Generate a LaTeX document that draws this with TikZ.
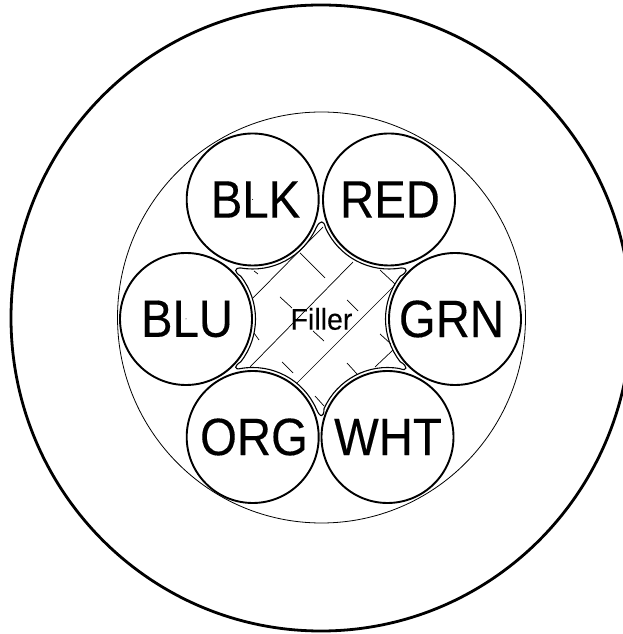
\documentclass[tikz,border=0pt]{standalone}
\usepackage{fontspec}
\usetikzlibrary{shapes.geometric}
\setmainfont{Liberation Sans}
\newfontfamily\wirefont[FakeStretch=0.9,FakeBold=0.2]{Liberation Sans}
\newfontfamily\fillerfont[FakeStretch=0.95,FakeBold=0.1]{Liberation Sans}
\tikzset{
  wire/.style={circle,draw=black,line width=1.9pt,minimum size=132pt,inner sep=0pt,outer sep=0pt,font=\wirefont\fontsize{52.6}{52.6}\selectfont},
  jacket/.style={ellipse,draw=black,line width=2.8pt,minimum width=620pt,minimum height=626pt,inner sep=0pt},
  shield/.style={ellipse,draw=black,line width=.8pt,minimum width=408pt,minimum height=411pt,inner sep=0pt},
  fillerline/.style={draw=black,line width=1.1pt,line join=round},
  hatchline/.style={draw=black,line width=.7pt},
  fillerlabel/.style={font=\fillerfont\fontsize{30}{30}\selectfont,inner sep=0pt}
}
\begin{document}
\begin{tikzpicture}[x=1pt,y=1pt]
\useasboundingbox (0,0) rectangle (623,634);
\node[jacket] (outer) at (321,316) {};
\node[shield] (inner) at (321.5,316.5) {};
\node[wire] (blk) at (252.7,434.5) {\hspace*{5.6pt}BLK};
\node[wire] (red) at (389,434.5) {\hspace*{2pt}RED};
\node[wire] (blu) at (186,315) {\hspace*{2pt}BLU};
\node[wire] (grn) at (455,315) {GRN\hspace*{7pt}};
\node[wire] (org) at (252.7,197) {\hspace*{2.6pt}ORG};
\node[wire] (wht) at (387.5,197) {\hspace*{1pt}WHT};
% filler outline
\path[fillerline]
  ([shift={(-24:69.5pt)}]blk.center) arc[start angle=-24,end angle=-100,radius=69.5pt]
  .. controls (234,366) and (234,362) .. ([shift={(38:69.5pt)}]blu.center) arc[start angle=38,end angle=-38,radius=69.5pt]
  .. controls (234,268) and (234,264) .. ([shift={(100:69.5pt)}]org.center) arc[start angle=100,end angle=24,radius=69.5pt]
  .. controls (320,216) and (324,216) .. ([shift={(156:69.5pt)}]wht.center) arc[start angle=156,end angle=80,radius=69.5pt]
  .. controls (408,262) and (408,268) .. ([shift={(218:69.5pt)}]grn.center) arc[start angle=218,end angle=142,radius=69.5pt]
  .. controls (408,362) and (408,366) .. ([shift={(-80:69.5pt)}]red.center) arc[start angle=-80,end angle=-156,radius=69.5pt]
  .. controls (324,414) and (320,414) .. cycle;
% hatching
\foreach \xa/\ya/\xb/\yb in {
  253/336/323/407, 250/267/353/372, 297/251/395/349, 375/267/393/284,
  300/381/325/356, 380/364/395/350, 254/363/258/360, 280/337/292/326,
  347/334/358/323, 313/303/324/293, 254/301/259/294, 380/300/391/290,
  282/272/293/261, 347/271/357/260, 315/238/324/228}
  \path[hatchline] (\xa,\ya) -- (\xb,\yb);
\node[fillerlabel] (fill) at (321.5,315) {Filler};
% centre marks
\fill (blk.center) circle[radius=.5pt];
\fill (blu.center) circle[radius=.5pt];
\end{tikzpicture}
\end{document}
